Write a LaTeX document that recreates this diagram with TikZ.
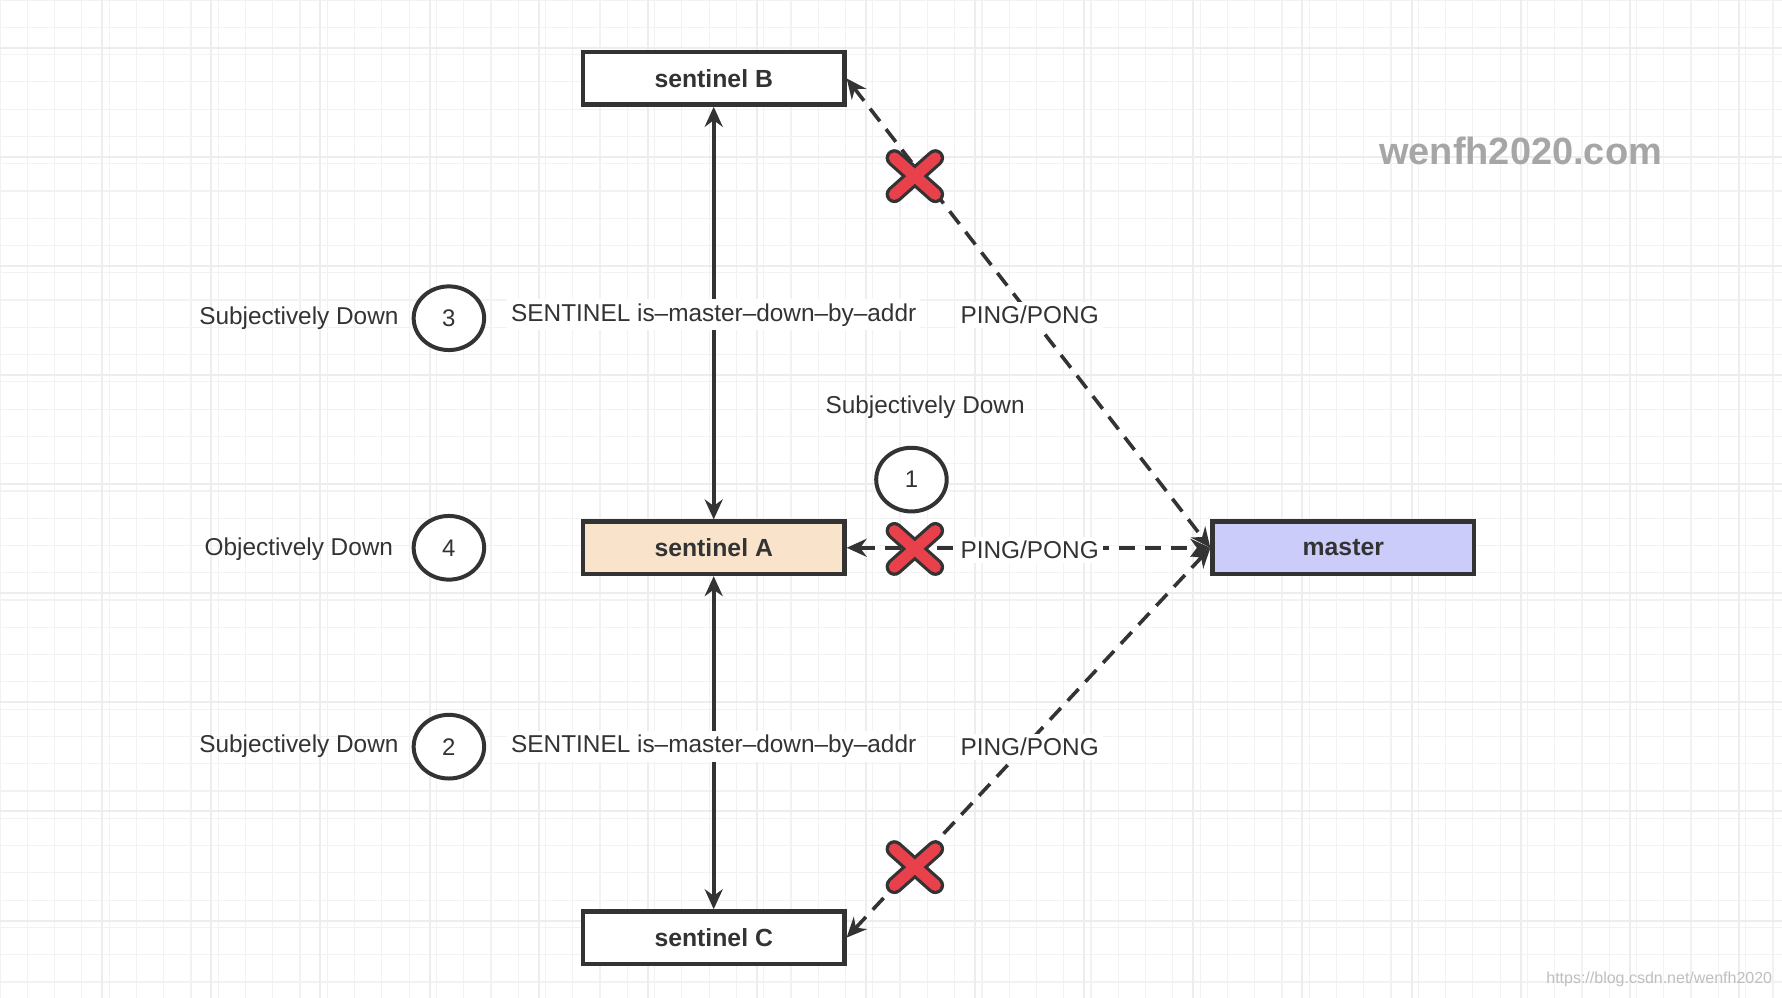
\documentclass[tikz,border=0pt]{standalone}
\usepackage{fontspec}
\setmainfont{Liberation Sans}
\usetikzlibrary{arrows.meta,shapes.geometric,calc}
\definecolor{ink}{HTML}{333333}
\definecolor{peach}{HTML}{F9E4CB}
\definecolor{lav}{HTML}{CCCCFA}
\definecolor{xred}{HTML}{E8414B}
\tikzset{
 box/.style={draw=ink,line width=1.1pt,minimum width=2.3cm,minimum height=0.46cm,inner sep=0,font=\fontsize{6.2}{7}\selectfont\bfseries,text=ink},
 circ/.style={draw=ink,line width=1pt,ellipse,minimum width=0.62cm,minimum height=0.56cm,inner sep=0,font=\fontsize{6}{7}\selectfont,text=ink},
 lbl/.style={font=\fontsize{6.1}{7}\selectfont,text=ink,inner sep=1pt},
 solidarr/.style={draw=ink,line width=0.9pt,{Stealth[length=5pt,width=4.5pt]}-{Stealth[length=5pt,width=4.5pt]}},
 dasharr/.style={draw=ink,line width=0.9pt,dash pattern=on 4pt off 2.5pt,{Stealth[length=5pt,width=4.5pt]}-{Stealth[length=5pt,width=4.5pt]}},
}
\newcommand{\redx}[1]{%
 \draw[ink,line width=4.4pt,line cap=round] ($(#1)+(-18,-16)$) -- ($(#1)+(18,16)$) ($(#1)+(-18,16)$) -- ($(#1)+(18,-16)$);
 \draw[xred,line width=2.8pt,line cap=round] ($(#1)+(-18,-16)$) -- ($(#1)+(18,16)$) ($(#1)+(-18,16)$) -- ($(#1)+(18,-16)$);}
\begin{document}
\begin{tikzpicture}[x=0.01cm,y=-0.01cm]
\useasboundingbox (0,0) rectangle (1568,878);
\fill[white] (0,0) rectangle (1568,878);
\foreach \i in {0,...,65} \draw[black!5,line width=0.3pt] (\i*24,0) -- (\i*24,878);
\foreach \i in {0,...,37} \draw[black!5,line width=0.3pt] (0,\i*24) -- (1568,\i*24);
\foreach \i in {0,...,16} \draw[black!7,line width=0.5pt] (\i*96+90,0) -- (\i*96+90,878);
\foreach \i in {0,...,9} \draw[black!7,line width=0.5pt] (0,\i*96+42) -- (1568,\i*96+42);

\node[box,fill=white] (B) at (628,69) {sentinel B};
\node[box,fill=peach] (A) at (628,482) {sentinel A};
\node[box,fill=white] (C) at (628,825) {sentinel C};
\node[box,fill=lav] (M) at (1182,482) {master};

\draw[solidarr] (B) -- (A);
\draw[solidarr] (A) -- (C);
\draw[dasharr] (B.east) -- (M.west);
\draw[dasharr] (A.east) -- (M.west);
\draw[dasharr] (C.east) -- (M.west);

\node[lbl,fill=white] (t1) at (628,277) {SENTINEL is–master–down–by–addr};
\node[lbl,fill=white] (t2) at (628,657) {SENTINEL is–master–down–by–addr};
\node[lbl,fill=white] (p1) at (906,277) {PING/PONG};
\node[lbl,fill=white] (p2) at (906,484) {PING/PONG};
\node[lbl,fill=white] (p3) at (906,657) {PING/PONG};

\node[circ,fill=white] (c3) at (395,280) {3};
\node[circ,fill=white] (c4) at (395,482) {4};
\node[circ,fill=white] (c2) at (395,657) {2};
\node[circ,fill=white] (c1) at (802,422) {1};
\node[lbl] (s3) at (263,280) {Subjectively Down};
\node[lbl] (o4) at (263,483) {Objectively Down};
\node[lbl] (s2) at (263,657) {Subjectively Down};
\node[lbl] (s1) at (814,358) {Subjectively Down};

\coordinate (x1) at (805,155);
\coordinate (x2) at (805,483);
\coordinate (x3) at (805,763);
\redx{x1}\redx{x2}\redx{x3}

\node[font=\fontsize{9.5}{11}\selectfont\bfseries,text=black!35] (wm) at (1338,133) {wenfh2020.com};
\node[font=\fontsize{4}{5}\selectfont,text=black!25] (url) at (1460,862) {https://blog.csdn.net/wenfh2020};
\end{tikzpicture}
\end{document}
